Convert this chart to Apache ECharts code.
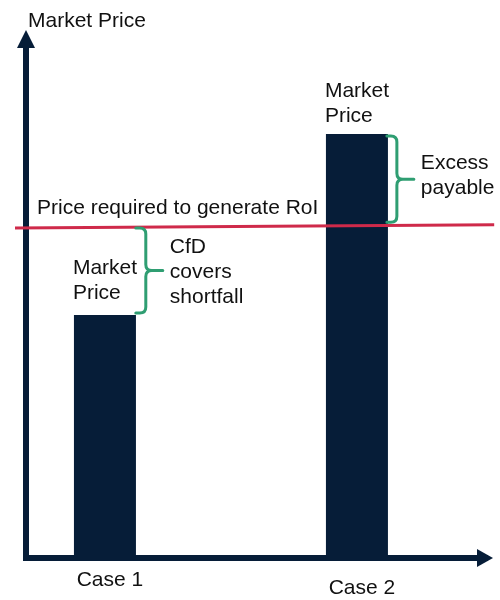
<!DOCTYPE html>
<html><head><meta charset="utf-8">
<script src="https://cdn.jsdelivr.net/npm/echarts@6/dist/echarts.min.js"></script>
<style>html,body{margin:0;padding:0;background:#fff}#c{width:500px;height:600px}</style>
</head><body><div id="c"></div>
<script>
// ---- data ----
const categories = ['Case 1', 'Case 2'];
const categoryX = [17.2, 72.1];
const marketPrice = [46.8, 81.7];
const barLabels = ['Market\nPrice', 'Market\nPrice'];
const roiPriceLine = [[-2.4, 63.6], [102, 64.2]];
const roiLabel = 'Price required to generate RoI';
const yAxisName = 'Market Price';
// braces: [x, from, to]
const braceX = [26.1, 80.8];
const braceFrom = [63.6, 81.3];
const braceTo = [47.2, 64.7];
const braceLabels = ['CfD\ncovers\nshortfall', 'Excess\npayable'];

// ---- styles ----
const NAVY = '#061d38';
const GREEN = '#2f9e72';
const RED = '#cf2a4a';
const TXT = '#111111';
const FONT = "'Liberation Sans', Arial, sans-serif";
const FS = 21;
const barLabelDistance = [9, 5];
const braceTextDy = [2, -3];
const caseLabelStyle = ['c0', 'c1'];

const chart = echarts.init(document.getElementById('c'), null, {renderer: 'canvas'});

const barData = categoryX.map((x, i) => ({value: [x, marketPrice[i]], label: {distance: barLabelDistance[i]}}));
const braceData = braceX.map((x, i) => [x, braceFrom[i], braceTo[i]]);
const roiData = [[roiPriceLine[0][0], roiPriceLine[0][1], roiPriceLine[1][0], roiPriceLine[1][1]]];

const option = {
  animation: false,
  backgroundColor: '#ffffff',
  grid: {left: 26, right: 15, top: 39, bottom: 42, containLabel: false, outerBoundsMode: 'none'},
  xAxis: {
    type: 'value', min: 0, max: 100,
    splitLine: {show: false},
    axisTick: {show: false},
    axisLine: {show: true, symbol: ['none', 'triangle'], symbolSize: [18, 16],
      lineStyle: {color: NAVY, width: 6, cap: 'square'}},
    axisLabel: {
      show: true, customValues: categoryX, margin: 12,
      color: TXT, fontSize: FS, fontFamily: FONT,
      formatter: (v) => { const i = categoryX.indexOf(v); return i >= 0 ? '{' + caseLabelStyle[i] + '|' + categories[i] + '}' : ''; },
      rich: {
        c0: {color: TXT, fontSize: FS, fontFamily: FONT, padding: [0, 0, 0, 10]},
        c1: {color: TXT, fontSize: FS, fontFamily: FONT, padding: [8, 0, 0, 10]}
      }
    }
  },
  yAxis: {
    type: 'value', min: 0, max: 100,
    name: yAxisName, nameLocation: 'end', nameGap: 7,
    nameTextStyle: {color: TXT, fontSize: FS, fontFamily: FONT, align: 'left', padding: [0, 0, 0, 2]},
    splitLine: {show: false}, axisTick: {show: false}, axisLabel: {show: false},
    axisLine: {show: true, symbol: ['none', 'triangle'], symbolSize: [18, 18],
      lineStyle: {color: NAVY, width: 6, cap: 'square'}}
  },
  graphic: [{
    type: 'text', x: 37, y: 208, z: 100,
    style: {text: roiLabel, fill: TXT, font: FS + 'px ' + FONT, verticalAlign: 'middle', align: 'left'}
  }],
  series: [
    {
      type: 'bar', data: barData, barWidth: 62,
      itemStyle: {color: NAVY},
      label: {show: true, position: 'top', distance: 8, align: 'left', offset: [-32, 0],
        color: TXT, fontSize: FS, fontFamily: FONT, lineHeight: 25,
        formatter: (p) => barLabels[p.dataIndex]}
    },
    {
      type: 'custom', data: roiData, clip: false, z: 5,
      renderItem: (params, api) => {
        const a = api.coord([api.value(0), api.value(1)]);
        const b = api.coord([api.value(2), api.value(3)]);
        return {type: 'line', shape: {x1: a[0], y1: a[1], x2: b[0], y2: b[1]},
          style: {stroke: RED, lineWidth: 3}};
      }
    },
    {
      type: 'custom', data: braceData, clip: false, z: 6,
      renderItem: (params, api) => {
        const x = api.value(0), a = api.value(1), b = api.value(2);
        const p1 = api.coord([x, a]), p2 = api.coord([x, b]);
        const xv = p1[0];
        const top = Math.min(p1[1], p2[1]), bot = Math.max(p1[1], p2[1]);
        const mid = (top + bot) / 2, r = 6, hook = 10, tip = 17;
        const d = `M${xv-hook},${top} L${xv-r},${top} Q${xv},${top} ${xv},${top+r} L${xv},${mid-r} Q${xv},${mid} ${xv+r},${mid} L${xv+tip},${mid} M${xv+r},${mid} Q${xv},${mid} ${xv},${mid+r} L${xv},${bot-r} Q${xv},${bot} ${xv-r},${bot} L${xv-hook},${bot}`;
        return {
          type: 'group',
          children: [
            {type: 'path', shape: {pathData: d}, style: {fill: 'none', stroke: GREEN, lineWidth: 3, lineJoin: 'round', lineCap: 'round'}},
            {type: 'text', x: xv + tip + 7, y: mid + braceTextDy[params.dataIndex],
              style: {text: braceLabels[params.dataIndex], fill: TXT, font: FS + 'px ' + FONT, lineHeight: 25, verticalAlign: 'middle', align: 'left'}}
          ]
        };
      }
    }
  ]
};
chart.setOption(option);
</script>
</body></html>
